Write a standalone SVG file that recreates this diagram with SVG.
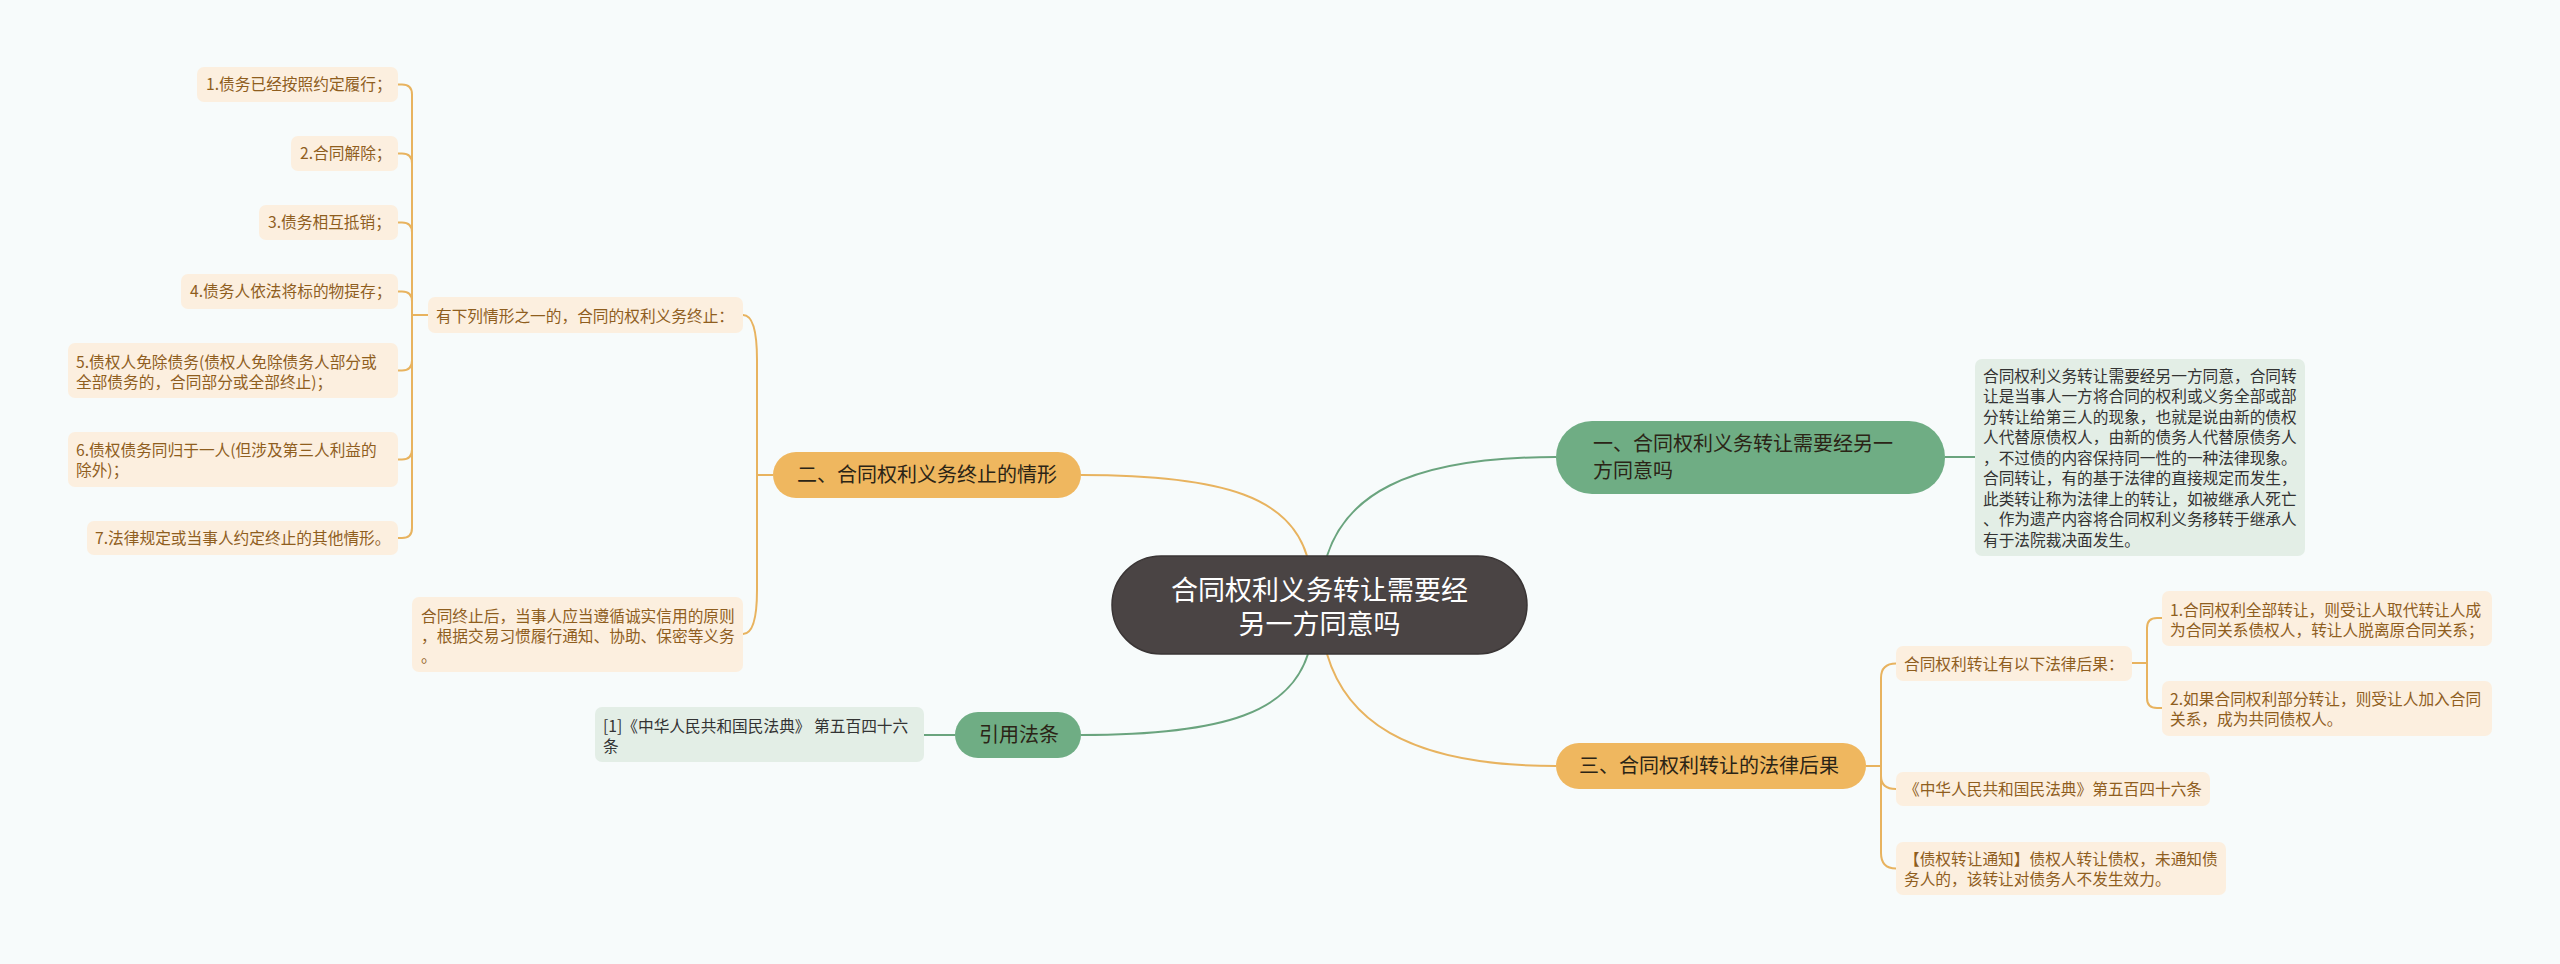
<svg xmlns="http://www.w3.org/2000/svg" width="2560" height="964" viewBox="0 0 2560 964">
<style>
.t{font-family:"Noto Sans CJK SC","Noto Sans",sans-serif}
.leaf rect{fill:#FCEFDF}
.leaf text{fill:#8F5E1E;font-size:15.7px}
.gleaf rect{fill:#E3EEE6}
.gleaf text{fill:#333333;font-size:15.7px}
.l1o rect{fill:#EFB75F}
.l1g rect{fill:#6FAD84}
.l1 text{fill:#2B2416;font-size:20px}
.oc{fill:none;stroke:#E8B35F;stroke-width:2}
.gc{fill:none;stroke:#6AA47E;stroke-width:2}
</style>
<rect x="0" y="0" width="2560" height="964" fill="#F7FBFB"/>

<g id="connectors">
  <path class="oc" d="M1307 556 C1290 500 1230 475 1081 475"/>
  <path class="gc" d="M1327 556 C1345 500 1400 457 1556 457"/>
  <path class="gc" d="M1308 654 C1290 710 1230 735 1081 735"/>
  <path class="oc" d="M1327 654 C1345 715 1400 766 1556 766"/>
  <path class="oc" d="M773 475 L757 475 L757 360 C757 330 752 315 743 315"/>
  <path class="oc" d="M773 475 L757 475 L757 590 C757 620 752 634 743 634"/>
  <path class="oc" d="M428 315 L412 315 L412 94.5 Q412 84.5 402 84.5 L398 84.5"/>
  <path class="oc" d="M428 315 L412 315 L412 163.5 Q412 153.5 402 153.5 L398 153.5"/>
  <path class="oc" d="M428 315 L412 315 L412 232.5 Q412 222.5 402 222.5 L398 222.5"/>
  <path class="oc" d="M428 315 L412 315 L412 301.5 Q412 291.5 402 291.5 L398 291.5"/>
  <path class="oc" d="M428 315 L412 315 L412 360.5 Q412 370.5 402 370.5 L398 370.5"/>
  <path class="oc" d="M428 315 L412 315 L412 449.5 Q412 459.5 402 459.5 L398 459.5"/>
  <path class="oc" d="M428 315 L412 315 L412 528 Q412 538 402 538 L398 538"/>
  <path class="gc" d="M955 735 L924 735"/>
  <path class="gc" d="M1945 457 L1975 457"/>
  <path class="oc" d="M1866 766 L1881 766 L1881 678 Q1881 663.5 1896 663.5"/>
  <path class="oc" d="M1866 766 L1881 766 L1881 776 Q1881 789 1896 789"/>
  <path class="oc" d="M1866 766 L1881 766 L1881 853 Q1881 868.5 1896 868.5"/>
  <path class="oc" d="M2132 663 L2147 663 L2147 628 Q2147 618 2157 618 L2162 618"/>
  <path class="oc" d="M2132 663 L2147 663 L2147 698 Q2147 708 2157 708 L2162 708"/>
</g>

<g id="center">
  <rect x="1112" y="556" width="415" height="98" rx="49" fill="#4A4444" stroke="#3A3535" stroke-width="1.5"/>
  <text class="t" x="1319.5" y="599.5" text-anchor="middle" font-size="27" fill="#FFFFFF">合同权利义务转让需要经</text>
  <text class="t" x="1319.5" y="633.5" text-anchor="middle" font-size="27" fill="#FFFFFF">另一方同意吗</text>
</g>

<g id="n-er" class="l1 l1o">
  <rect x="773" y="452" width="308" height="46" rx="23"/>
  <text class="t" x="927" y="482" text-anchor="middle">二、合同权利义务终止的情形</text>
</g>

<g id="n-youxia" class="leaf">
  <rect x="428" y="297" width="315" height="36" rx="7"/>
  <text class="t" x="436" y="321.5">有下列情形之一的，合同的权利义务终止：</text>
</g>

<g id="n-l1" class="leaf">
  <rect x="197" y="67" width="201" height="35" rx="7"/>
  <text class="t" x="206" y="90">1.债务已经按照约定履行；</text>
</g>
<g id="n-l2" class="leaf">
  <rect x="291" y="136" width="107" height="35" rx="7"/>
  <text class="t" x="300" y="159">2.合同解除；</text>
</g>
<g id="n-l3" class="leaf">
  <rect x="259" y="205" width="139" height="35" rx="7"/>
  <text class="t" x="268" y="228">3.债务相互抵销；</text>
</g>
<g id="n-l4" class="leaf">
  <rect x="181" y="274" width="217" height="35" rx="7"/>
  <text class="t" x="190" y="297">4.债务人依法将标的物提存；</text>
</g>
<g id="n-l5" class="leaf">
  <rect x="68" y="343" width="330" height="55" rx="7"/>
  <text class="t" x="76" y="367.5">5.债权人免除债务(债权人免除债务人部分或</text>
  <text class="t" x="76" y="387.5">全部债务的，合同部分或全部终止)；</text>
</g>
<g id="n-l6" class="leaf">
  <rect x="68" y="432" width="330" height="55" rx="7"/>
  <text class="t" x="76" y="455.5">6.债权债务同归于一人(但涉及第三人利益的</text>
  <text class="t" x="76" y="475.5">除外)；</text>
</g>
<g id="n-l7" class="leaf">
  <rect x="87" y="521" width="311" height="34" rx="7"/>
  <text class="t" x="95" y="543.5">7.法律规定或当事人约定终止的其他情形。</text>
</g>

<g id="n-zhongzhi" class="leaf">
  <rect x="412" y="597" width="331" height="75" rx="7"/>
  <text class="t" x="421" y="621.5">合同终止后，当事人应当遵循诚实信用的原则</text>
  <text class="t" x="421" y="641.5">，根据交易习惯履行通知、协助、保密等义务</text>
  <text class="t" x="421" y="661.5">。</text>
</g>

<g id="n-yinyong" class="l1 l1g">
  <rect x="955" y="712" width="126" height="46" rx="23"/>
  <text class="t" x="1019" y="742" text-anchor="middle">引用法条</text>
</g>
<g id="n-ref" class="gleaf">
  <rect x="595" y="707" width="329" height="55" rx="7"/>
  <text class="t" x="603" y="731.5">[1]《中华人民共和国民法典》 第五百四十六</text>
  <text class="t" x="603" y="751.5">条</text>
</g>

<g id="n-yi" class="l1 l1g">
  <rect x="1556" y="421" width="389" height="73" rx="36"/>
  <text class="t" x="1593" y="451">一、合同权利义务转让需要经另一</text>
  <text class="t" x="1593" y="478">方同意吗</text>
</g>
<g id="n-desc" class="gleaf">
  <rect x="1975" y="359" width="330" height="197" rx="7"/>
  <text class="t" x="1983" y="381.5">合同权利义务转让需要经另一方同意，合同转</text>
  <text class="t" x="1983" y="402">让是当事人一方将合同的权利或义务全部或部</text>
  <text class="t" x="1983" y="422.5">分转让给第三人的现象，也就是说由新的债权</text>
  <text class="t" x="1983" y="443">人代替原债权人，由新的债务人代替原债务人</text>
  <text class="t" x="1983" y="463.5">，不过债的内容保持同一性的一种法律现象。</text>
  <text class="t" x="1983" y="484">合同转让，有的基于法律的直接规定而发生，</text>
  <text class="t" x="1983" y="504.5">此类转让称为法律上的转让，如被继承人死亡</text>
  <text class="t" x="1983" y="525">、作为遗产内容将合同权利义务移转于继承人</text>
  <text class="t" x="1983" y="545.5">有于法院裁决面发生。</text>
</g>

<g id="n-san" class="l1 l1o">
  <rect x="1556" y="743" width="310" height="46" rx="23"/>
  <text class="t" x="1579" y="773">三、合同权利转让的法律后果</text>
</g>
<g id="n-houguo" class="leaf">
  <rect x="1896" y="646" width="236" height="35" rx="7"/>
  <text class="t" x="1904" y="669.5">合同权利转让有以下法律后果：</text>
</g>
<g id="n-r1" class="leaf">
  <rect x="2162" y="591" width="330" height="55" rx="7"/>
  <text class="t" x="2170" y="615.5">1.合同权利全部转让，则受让人取代转让人成</text>
  <text class="t" x="2170" y="635.5">为合同关系债权人，转让人脱离原合同关系；</text>
</g>
<g id="n-r2" class="leaf">
  <rect x="2162" y="681" width="330" height="55" rx="7"/>
  <text class="t" x="2170" y="704.5">2.如果合同权利部分转让，则受让人加入合同</text>
  <text class="t" x="2170" y="724.5">关系，成为共同债权人。</text>
</g>
<g id="n-minfadian" class="leaf">
  <rect x="1896" y="772" width="314" height="34" rx="7"/>
  <text class="t" x="1904" y="794.5">《中华人民共和国民法典》第五百四十六条</text>
</g>
<g id="n-tongzhi" class="leaf">
  <rect x="1896" y="842" width="330" height="53" rx="7"/>
  <text class="t" x="1904" y="864.5">【债权转让通知】债权人转让债权，未通知债</text>
  <text class="t" x="1904" y="884.5">务人的，该转让对债务人不发生效力。</text>
</g>
</svg>
